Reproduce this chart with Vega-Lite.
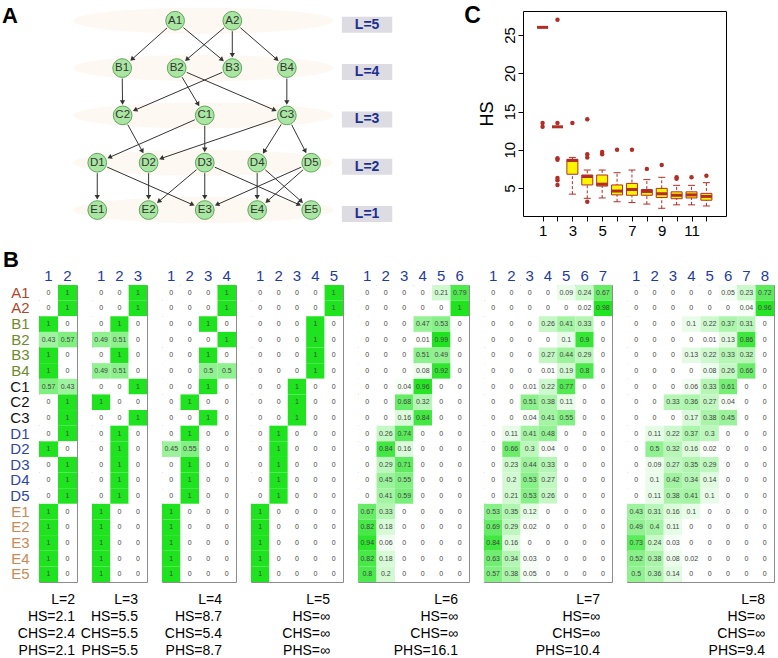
{
  "$schema": "https://vega.github.io/schema/vega-lite/v6.json",
  "background": "white",
  "padding": {"left": 2, "top": 4, "right": 2, "bottom": 0},
  "config": {
    "view": {"stroke": null},
    "font": "Liberation Sans",
    "title": {"font": "Liberation Sans", "color": "black"},
    "axis": {"labelFont": "Liberation Sans", "titleFont": "Liberation Sans"}
  },
  "datasets": {
    "tags": [{"panel": "A"}, {"panel": "C"}],
    "nodes": [
      {"id": "A1", "x": 2.47, "level": 5}, {"id": "A2", "x": 3.55, "level": 5},
      {"id": "B1", "x": 1.47, "level": 4}, {"id": "B2", "x": 2.5, "level": 4}, {"id": "B3", "x": 3.55, "level": 4}, {"id": "B4", "x": 4.58, "level": 4},
      {"id": "C1", "x": 3.03, "level": 3}, {"id": "C2", "x": 1.48, "level": 3}, {"id": "C3", "x": 4.58, "level": 3},
      {"id": "D1", "x": 1.0, "level": 2}, {"id": "D2", "x": 1.97, "level": 2}, {"id": "D3", "x": 3.03, "level": 2}, {"id": "D4", "x": 4.02, "level": 2}, {"id": "D5", "x": 5.04, "level": 2},
      {"id": "E1", "x": 1.0, "level": 1}, {"id": "E2", "x": 1.97, "level": 1}, {"id": "E3", "x": 3.03, "level": 1}, {"id": "E4", "x": 4.02, "level": 1}, {"id": "E5", "x": 5.04, "level": 1}
    ],
    "edges": [
      {"s": "A1", "t": "B1"}, {"s": "A1", "t": "B3"}, {"s": "A2", "t": "B2"}, {"s": "A2", "t": "B3"}, {"s": "A2", "t": "B4"},
      {"s": "B1", "t": "C2"}, {"s": "B3", "t": "C2"}, {"s": "B2", "t": "C1"}, {"s": "B2", "t": "C3"}, {"s": "B4", "t": "C3"},
      {"s": "C2", "t": "D2"}, {"s": "C1", "t": "D1"}, {"s": "C1", "t": "D3"}, {"s": "C3", "t": "D2"}, {"s": "C3", "t": "D4"}, {"s": "C3", "t": "D5"},
      {"s": "D1", "t": "E1"}, {"s": "D1", "t": "E3"}, {"s": "D2", "t": "E2"}, {"s": "D3", "t": "E2"}, {"s": "D3", "t": "E3"}, {"s": "D3", "t": "E5"},
      {"s": "D4", "t": "E4"}, {"s": "D4", "t": "E5"}, {"s": "D5", "t": "E3"}, {"s": "D5", "t": "E4"}
    ],
    "levels": [
      {"level": 5, "lab": "L=5"}, {"level": 4, "lab": "L=4"}, {"level": 3, "lab": "L=3"}, {"level": 2, "lab": "L=2"}, {"level": 1, "lab": "L=1"}
    ],
    "box": [
      {"g": 1, "lo": 26, "q1": 26, "med": 26, "q3": 26, "hi": 26},
      {"g": 2, "lo": 13, "q1": 13, "med": 13, "q3": 13, "hi": 13},
      {"g": 3, "lo": 4.2, "q1": 6.8, "med": 8.6, "q3": 8.75, "hi": 9.0},
      {"g": 4, "lo": 3.65, "q1": 5.4, "med": 6.5, "q3": 6.7, "hi": 7.35},
      {"g": 5, "lo": 3.7, "q1": 5.25, "med": 5.5, "q3": 6.7, "hi": 7.35},
      {"g": 6, "lo": 3.2, "q1": 4.1, "med": 4.6, "q3": 5.4, "hi": 7.0},
      {"g": 7, "lo": 3.1, "q1": 4.05, "med": 4.8, "q3": 5.6, "hi": 7.35},
      {"g": 8, "lo": 2.9, "q1": 4.05, "med": 4.55, "q3": 4.8, "hi": 6.1},
      {"g": 9, "lo": 2.35, "q1": 3.75, "med": 4.25, "q3": 4.95, "hi": 6.4},
      {"g": 10, "lo": 2.8, "q1": 3.6, "med": 4.05, "q3": 4.5, "hi": 5.35},
      {"g": 11, "lo": 2.8, "q1": 3.7, "med": 4.1, "q3": 4.5, "hi": 5.35},
      {"g": 12, "lo": 2.65, "q1": 3.4, "med": 3.9, "q3": 4.3, "hi": 5.7}
    ],
    "outl": [
      {"g": 1, "value": 13.5}, {"g": 1, "value": 13.0},
      {"g": 2, "value": 27.0}, {"g": 2, "value": 13.5}, {"g": 2, "value": 8.9}, {"g": 2, "value": 8.7}, {"g": 2, "value": 6.3}, {"g": 2, "value": 6.0}, {"g": 2, "value": 5.4},
      {"g": 3, "value": 13.5},
      {"g": 4, "value": 14.0}, {"g": 4, "value": 9.4}, {"g": 4, "value": 9.0}, {"g": 4, "value": 3.2},
      {"g": 5, "value": 9.7}, {"g": 5, "value": 9.4},
      {"g": 6, "value": 10.0}, {"g": 7, "value": 10.0}, {"g": 8, "value": 7.5}, {"g": 9, "value": 8.0},
      {"g": 10, "value": 6.4}, {"g": 10, "value": 6.2}, {"g": 11, "value": 6.4}, {"g": 12, "value": 6.6}
    ],
    "cells": [
      {"L":2,"r":"A1","c":1,"v":0},{"L":2,"r":"A1","c":2,"v":1},
      {"L":2,"r":"A2","c":1,"v":0},{"L":2,"r":"A2","c":2,"v":1},
      {"L":2,"r":"B1","c":1,"v":1},{"L":2,"r":"B1","c":2,"v":0},
      {"L":2,"r":"B2","c":1,"v":0.43},{"L":2,"r":"B2","c":2,"v":0.57},
      {"L":2,"r":"B3","c":1,"v":1},{"L":2,"r":"B3","c":2,"v":0},
      {"L":2,"r":"B4","c":1,"v":1},{"L":2,"r":"B4","c":2,"v":0},
      {"L":2,"r":"C1","c":1,"v":0.57},{"L":2,"r":"C1","c":2,"v":0.43},
      {"L":2,"r":"C2","c":1,"v":0},{"L":2,"r":"C2","c":2,"v":1},
      {"L":2,"r":"C3","c":1,"v":0},{"L":2,"r":"C3","c":2,"v":1},
      {"L":2,"r":"D1","c":1,"v":0},{"L":2,"r":"D1","c":2,"v":1},
      {"L":2,"r":"D2","c":1,"v":1},{"L":2,"r":"D2","c":2,"v":0},
      {"L":2,"r":"D3","c":1,"v":0},{"L":2,"r":"D3","c":2,"v":1},
      {"L":2,"r":"D4","c":1,"v":0},{"L":2,"r":"D4","c":2,"v":1},
      {"L":2,"r":"D5","c":1,"v":0},{"L":2,"r":"D5","c":2,"v":1},
      {"L":2,"r":"E1","c":1,"v":1},{"L":2,"r":"E1","c":2,"v":0},
      {"L":2,"r":"E2","c":1,"v":1},{"L":2,"r":"E2","c":2,"v":0},
      {"L":2,"r":"E3","c":1,"v":1},{"L":2,"r":"E3","c":2,"v":0},
      {"L":2,"r":"E4","c":1,"v":1},{"L":2,"r":"E4","c":2,"v":0},
      {"L":2,"r":"E5","c":1,"v":1},{"L":2,"r":"E5","c":2,"v":0},

      {"L":3,"r":"A1","c":1,"v":0},{"L":3,"r":"A1","c":2,"v":0},{"L":3,"r":"A1","c":3,"v":1},
      {"L":3,"r":"A2","c":1,"v":0},{"L":3,"r":"A2","c":2,"v":0},{"L":3,"r":"A2","c":3,"v":1},
      {"L":3,"r":"B1","c":1,"v":0},{"L":3,"r":"B1","c":2,"v":1},{"L":3,"r":"B1","c":3,"v":0},
      {"L":3,"r":"B2","c":1,"v":0.49},{"L":3,"r":"B2","c":2,"v":0.51},{"L":3,"r":"B2","c":3,"v":0},
      {"L":3,"r":"B3","c":1,"v":0},{"L":3,"r":"B3","c":2,"v":1},{"L":3,"r":"B3","c":3,"v":0},
      {"L":3,"r":"B4","c":1,"v":0.49},{"L":3,"r":"B4","c":2,"v":0.51},{"L":3,"r":"B4","c":3,"v":0},
      {"L":3,"r":"C1","c":1,"v":0},{"L":3,"r":"C1","c":2,"v":0},{"L":3,"r":"C1","c":3,"v":1},
      {"L":3,"r":"C2","c":1,"v":1},{"L":3,"r":"C2","c":2,"v":0},{"L":3,"r":"C2","c":3,"v":0},
      {"L":3,"r":"C3","c":1,"v":0},{"L":3,"r":"C3","c":2,"v":0},{"L":3,"r":"C3","c":3,"v":1},
      {"L":3,"r":"D1","c":1,"v":0},{"L":3,"r":"D1","c":2,"v":1},{"L":3,"r":"D1","c":3,"v":0},
      {"L":3,"r":"D2","c":1,"v":0},{"L":3,"r":"D2","c":2,"v":1},{"L":3,"r":"D2","c":3,"v":0},
      {"L":3,"r":"D3","c":1,"v":0},{"L":3,"r":"D3","c":2,"v":1},{"L":3,"r":"D3","c":3,"v":0},
      {"L":3,"r":"D4","c":1,"v":0},{"L":3,"r":"D4","c":2,"v":1},{"L":3,"r":"D4","c":3,"v":0},
      {"L":3,"r":"D5","c":1,"v":0},{"L":3,"r":"D5","c":2,"v":1},{"L":3,"r":"D5","c":3,"v":0},
      {"L":3,"r":"E1","c":1,"v":1},{"L":3,"r":"E1","c":2,"v":0},{"L":3,"r":"E1","c":3,"v":0},
      {"L":3,"r":"E2","c":1,"v":1},{"L":3,"r":"E2","c":2,"v":0},{"L":3,"r":"E2","c":3,"v":0},
      {"L":3,"r":"E3","c":1,"v":1},{"L":3,"r":"E3","c":2,"v":0},{"L":3,"r":"E3","c":3,"v":0},
      {"L":3,"r":"E4","c":1,"v":1},{"L":3,"r":"E4","c":2,"v":0},{"L":3,"r":"E4","c":3,"v":0},
      {"L":3,"r":"E5","c":1,"v":1},{"L":3,"r":"E5","c":2,"v":0},{"L":3,"r":"E5","c":3,"v":0},

      {"L":4,"r":"A1","c":1,"v":0},{"L":4,"r":"A1","c":2,"v":0},{"L":4,"r":"A1","c":3,"v":0},{"L":4,"r":"A1","c":4,"v":1},
      {"L":4,"r":"A2","c":1,"v":0},{"L":4,"r":"A2","c":2,"v":0},{"L":4,"r":"A2","c":3,"v":0},{"L":4,"r":"A2","c":4,"v":1},
      {"L":4,"r":"B1","c":1,"v":0},{"L":4,"r":"B1","c":2,"v":0},{"L":4,"r":"B1","c":3,"v":1},{"L":4,"r":"B1","c":4,"v":0},
      {"L":4,"r":"B2","c":1,"v":0},{"L":4,"r":"B2","c":2,"v":0},{"L":4,"r":"B2","c":3,"v":0},{"L":4,"r":"B2","c":4,"v":1},
      {"L":4,"r":"B3","c":1,"v":0},{"L":4,"r":"B3","c":2,"v":0},{"L":4,"r":"B3","c":3,"v":1},{"L":4,"r":"B3","c":4,"v":0},
      {"L":4,"r":"B4","c":1,"v":0},{"L":4,"r":"B4","c":2,"v":0},{"L":4,"r":"B4","c":3,"v":0.5},{"L":4,"r":"B4","c":4,"v":0.5},
      {"L":4,"r":"C1","c":1,"v":0},{"L":4,"r":"C1","c":2,"v":0},{"L":4,"r":"C1","c":3,"v":1},{"L":4,"r":"C1","c":4,"v":0},
      {"L":4,"r":"C2","c":1,"v":0},{"L":4,"r":"C2","c":2,"v":1},{"L":4,"r":"C2","c":3,"v":0},{"L":4,"r":"C2","c":4,"v":0},
      {"L":4,"r":"C3","c":1,"v":0},{"L":4,"r":"C3","c":2,"v":0},{"L":4,"r":"C3","c":3,"v":1},{"L":4,"r":"C3","c":4,"v":0},
      {"L":4,"r":"D1","c":1,"v":0},{"L":4,"r":"D1","c":2,"v":1},{"L":4,"r":"D1","c":3,"v":0},{"L":4,"r":"D1","c":4,"v":0},
      {"L":4,"r":"D2","c":1,"v":0.45},{"L":4,"r":"D2","c":2,"v":0.55},{"L":4,"r":"D2","c":3,"v":0},{"L":4,"r":"D2","c":4,"v":0},
      {"L":4,"r":"D3","c":1,"v":0},{"L":4,"r":"D3","c":2,"v":1},{"L":4,"r":"D3","c":3,"v":0},{"L":4,"r":"D3","c":4,"v":0},
      {"L":4,"r":"D4","c":1,"v":0},{"L":4,"r":"D4","c":2,"v":1},{"L":4,"r":"D4","c":3,"v":0},{"L":4,"r":"D4","c":4,"v":0},
      {"L":4,"r":"D5","c":1,"v":0},{"L":4,"r":"D5","c":2,"v":1},{"L":4,"r":"D5","c":3,"v":0},{"L":4,"r":"D5","c":4,"v":0},
      {"L":4,"r":"E1","c":1,"v":1},{"L":4,"r":"E1","c":2,"v":0},{"L":4,"r":"E1","c":3,"v":0},{"L":4,"r":"E1","c":4,"v":0},
      {"L":4,"r":"E2","c":1,"v":1},{"L":4,"r":"E2","c":2,"v":0},{"L":4,"r":"E2","c":3,"v":0},{"L":4,"r":"E2","c":4,"v":0},
      {"L":4,"r":"E3","c":1,"v":1},{"L":4,"r":"E3","c":2,"v":0},{"L":4,"r":"E3","c":3,"v":0},{"L":4,"r":"E3","c":4,"v":0},
      {"L":4,"r":"E4","c":1,"v":1},{"L":4,"r":"E4","c":2,"v":0},{"L":4,"r":"E4","c":3,"v":0},{"L":4,"r":"E4","c":4,"v":0},
      {"L":4,"r":"E5","c":1,"v":1},{"L":4,"r":"E5","c":2,"v":0},{"L":4,"r":"E5","c":3,"v":0},{"L":4,"r":"E5","c":4,"v":0},

      {"L":5,"r":"A1","c":1,"v":0},{"L":5,"r":"A1","c":2,"v":0},{"L":5,"r":"A1","c":3,"v":0},{"L":5,"r":"A1","c":4,"v":0},{"L":5,"r":"A1","c":5,"v":1},
      {"L":5,"r":"A2","c":1,"v":0},{"L":5,"r":"A2","c":2,"v":0},{"L":5,"r":"A2","c":3,"v":0},{"L":5,"r":"A2","c":4,"v":0},{"L":5,"r":"A2","c":5,"v":1},
      {"L":5,"r":"B1","c":1,"v":0},{"L":5,"r":"B1","c":2,"v":0},{"L":5,"r":"B1","c":3,"v":0},{"L":5,"r":"B1","c":4,"v":1},{"L":5,"r":"B1","c":5,"v":0},
      {"L":5,"r":"B2","c":1,"v":0},{"L":5,"r":"B2","c":2,"v":0},{"L":5,"r":"B2","c":3,"v":0},{"L":5,"r":"B2","c":4,"v":1},{"L":5,"r":"B2","c":5,"v":0},
      {"L":5,"r":"B3","c":1,"v":0},{"L":5,"r":"B3","c":2,"v":0},{"L":5,"r":"B3","c":3,"v":0},{"L":5,"r":"B3","c":4,"v":1},{"L":5,"r":"B3","c":5,"v":0},
      {"L":5,"r":"B4","c":1,"v":0},{"L":5,"r":"B4","c":2,"v":0},{"L":5,"r":"B4","c":3,"v":0},{"L":5,"r":"B4","c":4,"v":1},{"L":5,"r":"B4","c":5,"v":0},
      {"L":5,"r":"C1","c":1,"v":0},{"L":5,"r":"C1","c":2,"v":0},{"L":5,"r":"C1","c":3,"v":1},{"L":5,"r":"C1","c":4,"v":0},{"L":5,"r":"C1","c":5,"v":0},
      {"L":5,"r":"C2","c":1,"v":0},{"L":5,"r":"C2","c":2,"v":0},{"L":5,"r":"C2","c":3,"v":1},{"L":5,"r":"C2","c":4,"v":0},{"L":5,"r":"C2","c":5,"v":0},
      {"L":5,"r":"C3","c":1,"v":0},{"L":5,"r":"C3","c":2,"v":0},{"L":5,"r":"C3","c":3,"v":1},{"L":5,"r":"C3","c":4,"v":0},{"L":5,"r":"C3","c":5,"v":0},
      {"L":5,"r":"D1","c":1,"v":0},{"L":5,"r":"D1","c":2,"v":1},{"L":5,"r":"D1","c":3,"v":0},{"L":5,"r":"D1","c":4,"v":0},{"L":5,"r":"D1","c":5,"v":0},
      {"L":5,"r":"D2","c":1,"v":0},{"L":5,"r":"D2","c":2,"v":1},{"L":5,"r":"D2","c":3,"v":0},{"L":5,"r":"D2","c":4,"v":0},{"L":5,"r":"D2","c":5,"v":0},
      {"L":5,"r":"D3","c":1,"v":0},{"L":5,"r":"D3","c":2,"v":1},{"L":5,"r":"D3","c":3,"v":0},{"L":5,"r":"D3","c":4,"v":0},{"L":5,"r":"D3","c":5,"v":0},
      {"L":5,"r":"D4","c":1,"v":0},{"L":5,"r":"D4","c":2,"v":1},{"L":5,"r":"D4","c":3,"v":0},{"L":5,"r":"D4","c":4,"v":0},{"L":5,"r":"D4","c":5,"v":0},
      {"L":5,"r":"D5","c":1,"v":0},{"L":5,"r":"D5","c":2,"v":1},{"L":5,"r":"D5","c":3,"v":0},{"L":5,"r":"D5","c":4,"v":0},{"L":5,"r":"D5","c":5,"v":0},
      {"L":5,"r":"E1","c":1,"v":1},{"L":5,"r":"E1","c":2,"v":0},{"L":5,"r":"E1","c":3,"v":0},{"L":5,"r":"E1","c":4,"v":0},{"L":5,"r":"E1","c":5,"v":0},
      {"L":5,"r":"E2","c":1,"v":1},{"L":5,"r":"E2","c":2,"v":0},{"L":5,"r":"E2","c":3,"v":0},{"L":5,"r":"E2","c":4,"v":0},{"L":5,"r":"E2","c":5,"v":0},
      {"L":5,"r":"E3","c":1,"v":1},{"L":5,"r":"E3","c":2,"v":0},{"L":5,"r":"E3","c":3,"v":0},{"L":5,"r":"E3","c":4,"v":0},{"L":5,"r":"E3","c":5,"v":0},
      {"L":5,"r":"E4","c":1,"v":1},{"L":5,"r":"E4","c":2,"v":0},{"L":5,"r":"E4","c":3,"v":0},{"L":5,"r":"E4","c":4,"v":0},{"L":5,"r":"E4","c":5,"v":0},
      {"L":5,"r":"E5","c":1,"v":1},{"L":5,"r":"E5","c":2,"v":0},{"L":5,"r":"E5","c":3,"v":0},{"L":5,"r":"E5","c":4,"v":0},{"L":5,"r":"E5","c":5,"v":0},

      {"L":6,"r":"A1","c":1,"v":0},{"L":6,"r":"A1","c":2,"v":0},{"L":6,"r":"A1","c":3,"v":0},{"L":6,"r":"A1","c":4,"v":0},{"L":6,"r":"A1","c":5,"v":0.21},{"L":6,"r":"A1","c":6,"v":0.79},
      {"L":6,"r":"A2","c":1,"v":0},{"L":6,"r":"A2","c":2,"v":0},{"L":6,"r":"A2","c":3,"v":0},{"L":6,"r":"A2","c":4,"v":0},{"L":6,"r":"A2","c":5,"v":0},{"L":6,"r":"A2","c":6,"v":1},
      {"L":6,"r":"B1","c":1,"v":0},{"L":6,"r":"B1","c":2,"v":0},{"L":6,"r":"B1","c":3,"v":0},{"L":6,"r":"B1","c":4,"v":0.47},{"L":6,"r":"B1","c":5,"v":0.53},{"L":6,"r":"B1","c":6,"v":0},
      {"L":6,"r":"B2","c":1,"v":0},{"L":6,"r":"B2","c":2,"v":0},{"L":6,"r":"B2","c":3,"v":0},{"L":6,"r":"B2","c":4,"v":0.01},{"L":6,"r":"B2","c":5,"v":0.99},{"L":6,"r":"B2","c":6,"v":0},
      {"L":6,"r":"B3","c":1,"v":0},{"L":6,"r":"B3","c":2,"v":0},{"L":6,"r":"B3","c":3,"v":0},{"L":6,"r":"B3","c":4,"v":0.51},{"L":6,"r":"B3","c":5,"v":0.49},{"L":6,"r":"B3","c":6,"v":0},
      {"L":6,"r":"B4","c":1,"v":0},{"L":6,"r":"B4","c":2,"v":0},{"L":6,"r":"B4","c":3,"v":0},{"L":6,"r":"B4","c":4,"v":0.08},{"L":6,"r":"B4","c":5,"v":0.92},{"L":6,"r":"B4","c":6,"v":0},
      {"L":6,"r":"C1","c":1,"v":0},{"L":6,"r":"C1","c":2,"v":0},{"L":6,"r":"C1","c":3,"v":0.04},{"L":6,"r":"C1","c":4,"v":0.96},{"L":6,"r":"C1","c":5,"v":0},{"L":6,"r":"C1","c":6,"v":0},
      {"L":6,"r":"C2","c":1,"v":0},{"L":6,"r":"C2","c":2,"v":0},{"L":6,"r":"C2","c":3,"v":0.68},{"L":6,"r":"C2","c":4,"v":0.32},{"L":6,"r":"C2","c":5,"v":0},{"L":6,"r":"C2","c":6,"v":0},
      {"L":6,"r":"C3","c":1,"v":0},{"L":6,"r":"C3","c":2,"v":0},{"L":6,"r":"C3","c":3,"v":0.16},{"L":6,"r":"C3","c":4,"v":0.84},{"L":6,"r":"C3","c":5,"v":0},{"L":6,"r":"C3","c":6,"v":0},
      {"L":6,"r":"D1","c":1,"v":0},{"L":6,"r":"D1","c":2,"v":0.26},{"L":6,"r":"D1","c":3,"v":0.74},{"L":6,"r":"D1","c":4,"v":0},{"L":6,"r":"D1","c":5,"v":0},{"L":6,"r":"D1","c":6,"v":0},
      {"L":6,"r":"D2","c":1,"v":0},{"L":6,"r":"D2","c":2,"v":0.84},{"L":6,"r":"D2","c":3,"v":0.16},{"L":6,"r":"D2","c":4,"v":0},{"L":6,"r":"D2","c":5,"v":0},{"L":6,"r":"D2","c":6,"v":0},
      {"L":6,"r":"D3","c":1,"v":0},{"L":6,"r":"D3","c":2,"v":0.29},{"L":6,"r":"D3","c":3,"v":0.71},{"L":6,"r":"D3","c":4,"v":0},{"L":6,"r":"D3","c":5,"v":0},{"L":6,"r":"D3","c":6,"v":0},
      {"L":6,"r":"D4","c":1,"v":0},{"L":6,"r":"D4","c":2,"v":0.45},{"L":6,"r":"D4","c":3,"v":0.55},{"L":6,"r":"D4","c":4,"v":0},{"L":6,"r":"D4","c":5,"v":0},{"L":6,"r":"D4","c":6,"v":0},
      {"L":6,"r":"D5","c":1,"v":0},{"L":6,"r":"D5","c":2,"v":0.41},{"L":6,"r":"D5","c":3,"v":0.59},{"L":6,"r":"D5","c":4,"v":0},{"L":6,"r":"D5","c":5,"v":0},{"L":6,"r":"D5","c":6,"v":0},
      {"L":6,"r":"E1","c":1,"v":0.67},{"L":6,"r":"E1","c":2,"v":0.33},{"L":6,"r":"E1","c":3,"v":0},{"L":6,"r":"E1","c":4,"v":0},{"L":6,"r":"E1","c":5,"v":0},{"L":6,"r":"E1","c":6,"v":0},
      {"L":6,"r":"E2","c":1,"v":0.82},{"L":6,"r":"E2","c":2,"v":0.18},{"L":6,"r":"E2","c":3,"v":0},{"L":6,"r":"E2","c":4,"v":0},{"L":6,"r":"E2","c":5,"v":0},{"L":6,"r":"E2","c":6,"v":0},
      {"L":6,"r":"E3","c":1,"v":0.94},{"L":6,"r":"E3","c":2,"v":0.06},{"L":6,"r":"E3","c":3,"v":0},{"L":6,"r":"E3","c":4,"v":0},{"L":6,"r":"E3","c":5,"v":0},{"L":6,"r":"E3","c":6,"v":0},
      {"L":6,"r":"E4","c":1,"v":0.82},{"L":6,"r":"E4","c":2,"v":0.18},{"L":6,"r":"E4","c":3,"v":0},{"L":6,"r":"E4","c":4,"v":0},{"L":6,"r":"E4","c":5,"v":0},{"L":6,"r":"E4","c":6,"v":0},
      {"L":6,"r":"E5","c":1,"v":0.8},{"L":6,"r":"E5","c":2,"v":0.2},{"L":6,"r":"E5","c":3,"v":0},{"L":6,"r":"E5","c":4,"v":0},{"L":6,"r":"E5","c":5,"v":0},{"L":6,"r":"E5","c":6,"v":0},

      {"L":7,"r":"A1","c":1,"v":0},{"L":7,"r":"A1","c":2,"v":0},{"L":7,"r":"A1","c":3,"v":0},{"L":7,"r":"A1","c":4,"v":0},{"L":7,"r":"A1","c":5,"v":0.09},{"L":7,"r":"A1","c":6,"v":0.24},{"L":7,"r":"A1","c":7,"v":0.67},
      {"L":7,"r":"A2","c":1,"v":0},{"L":7,"r":"A2","c":2,"v":0},{"L":7,"r":"A2","c":3,"v":0},{"L":7,"r":"A2","c":4,"v":0},{"L":7,"r":"A2","c":5,"v":0},{"L":7,"r":"A2","c":6,"v":0.02},{"L":7,"r":"A2","c":7,"v":0.98},
      {"L":7,"r":"B1","c":1,"v":0},{"L":7,"r":"B1","c":2,"v":0},{"L":7,"r":"B1","c":3,"v":0},{"L":7,"r":"B1","c":4,"v":0.26},{"L":7,"r":"B1","c":5,"v":0.41},{"L":7,"r":"B1","c":6,"v":0.33},{"L":7,"r":"B1","c":7,"v":0},
      {"L":7,"r":"B2","c":1,"v":0},{"L":7,"r":"B2","c":2,"v":0},{"L":7,"r":"B2","c":3,"v":0},{"L":7,"r":"B2","c":4,"v":0},{"L":7,"r":"B2","c":5,"v":0.1},{"L":7,"r":"B2","c":6,"v":0.9},{"L":7,"r":"B2","c":7,"v":0},
      {"L":7,"r":"B3","c":1,"v":0},{"L":7,"r":"B3","c":2,"v":0},{"L":7,"r":"B3","c":3,"v":0},{"L":7,"r":"B3","c":4,"v":0.27},{"L":7,"r":"B3","c":5,"v":0.44},{"L":7,"r":"B3","c":6,"v":0.29},{"L":7,"r":"B3","c":7,"v":0},
      {"L":7,"r":"B4","c":1,"v":0},{"L":7,"r":"B4","c":2,"v":0},{"L":7,"r":"B4","c":3,"v":0},{"L":7,"r":"B4","c":4,"v":0.01},{"L":7,"r":"B4","c":5,"v":0.19},{"L":7,"r":"B4","c":6,"v":0.8},{"L":7,"r":"B4","c":7,"v":0},
      {"L":7,"r":"C1","c":1,"v":0},{"L":7,"r":"C1","c":2,"v":0},{"L":7,"r":"C1","c":3,"v":0.01},{"L":7,"r":"C1","c":4,"v":0.22},{"L":7,"r":"C1","c":5,"v":0.77},{"L":7,"r":"C1","c":6,"v":0},{"L":7,"r":"C1","c":7,"v":0},
      {"L":7,"r":"C2","c":1,"v":0},{"L":7,"r":"C2","c":2,"v":0},{"L":7,"r":"C2","c":3,"v":0.51},{"L":7,"r":"C2","c":4,"v":0.38},{"L":7,"r":"C2","c":5,"v":0.11},{"L":7,"r":"C2","c":6,"v":0},{"L":7,"r":"C2","c":7,"v":0},
      {"L":7,"r":"C3","c":1,"v":0},{"L":7,"r":"C3","c":2,"v":0},{"L":7,"r":"C3","c":3,"v":0.04},{"L":7,"r":"C3","c":4,"v":0.41},{"L":7,"r":"C3","c":5,"v":0.55},{"L":7,"r":"C3","c":6,"v":0},{"L":7,"r":"C3","c":7,"v":0},
      {"L":7,"r":"D1","c":1,"v":0},{"L":7,"r":"D1","c":2,"v":0.11},{"L":7,"r":"D1","c":3,"v":0.41},{"L":7,"r":"D1","c":4,"v":0.48},{"L":7,"r":"D1","c":5,"v":0},{"L":7,"r":"D1","c":6,"v":0},{"L":7,"r":"D1","c":7,"v":0},
      {"L":7,"r":"D2","c":1,"v":0},{"L":7,"r":"D2","c":2,"v":0.66},{"L":7,"r":"D2","c":3,"v":0.3},{"L":7,"r":"D2","c":4,"v":0.04},{"L":7,"r":"D2","c":5,"v":0},{"L":7,"r":"D2","c":6,"v":0},{"L":7,"r":"D2","c":7,"v":0},
      {"L":7,"r":"D3","c":1,"v":0},{"L":7,"r":"D3","c":2,"v":0.23},{"L":7,"r":"D3","c":3,"v":0.44},{"L":7,"r":"D3","c":4,"v":0.33},{"L":7,"r":"D3","c":5,"v":0},{"L":7,"r":"D3","c":6,"v":0},{"L":7,"r":"D3","c":7,"v":0},
      {"L":7,"r":"D4","c":1,"v":0},{"L":7,"r":"D4","c":2,"v":0.2},{"L":7,"r":"D4","c":3,"v":0.53},{"L":7,"r":"D4","c":4,"v":0.27},{"L":7,"r":"D4","c":5,"v":0},{"L":7,"r":"D4","c":6,"v":0},{"L":7,"r":"D4","c":7,"v":0},
      {"L":7,"r":"D5","c":1,"v":0},{"L":7,"r":"D5","c":2,"v":0.21},{"L":7,"r":"D5","c":3,"v":0.53},{"L":7,"r":"D5","c":4,"v":0.26},{"L":7,"r":"D5","c":5,"v":0},{"L":7,"r":"D5","c":6,"v":0},{"L":7,"r":"D5","c":7,"v":0},
      {"L":7,"r":"E1","c":1,"v":0.53},{"L":7,"r":"E1","c":2,"v":0.35},{"L":7,"r":"E1","c":3,"v":0.12},{"L":7,"r":"E1","c":4,"v":0},{"L":7,"r":"E1","c":5,"v":0},{"L":7,"r":"E1","c":6,"v":0},{"L":7,"r":"E1","c":7,"v":0},
      {"L":7,"r":"E2","c":1,"v":0.69},{"L":7,"r":"E2","c":2,"v":0.29},{"L":7,"r":"E2","c":3,"v":0.02},{"L":7,"r":"E2","c":4,"v":0},{"L":7,"r":"E2","c":5,"v":0},{"L":7,"r":"E2","c":6,"v":0},{"L":7,"r":"E2","c":7,"v":0},
      {"L":7,"r":"E3","c":1,"v":0.84},{"L":7,"r":"E3","c":2,"v":0.16},{"L":7,"r":"E3","c":3,"v":0},{"L":7,"r":"E3","c":4,"v":0},{"L":7,"r":"E3","c":5,"v":0},{"L":7,"r":"E3","c":6,"v":0},{"L":7,"r":"E3","c":7,"v":0},
      {"L":7,"r":"E4","c":1,"v":0.63},{"L":7,"r":"E4","c":2,"v":0.34},{"L":7,"r":"E4","c":3,"v":0.03},{"L":7,"r":"E4","c":4,"v":0},{"L":7,"r":"E4","c":5,"v":0},{"L":7,"r":"E4","c":6,"v":0},{"L":7,"r":"E4","c":7,"v":0},
      {"L":7,"r":"E5","c":1,"v":0.57},{"L":7,"r":"E5","c":2,"v":0.38},{"L":7,"r":"E5","c":3,"v":0.05},{"L":7,"r":"E5","c":4,"v":0},{"L":7,"r":"E5","c":5,"v":0},{"L":7,"r":"E5","c":6,"v":0},{"L":7,"r":"E5","c":7,"v":0},

      {"L":8,"r":"A1","c":1,"v":0},{"L":8,"r":"A1","c":2,"v":0},{"L":8,"r":"A1","c":3,"v":0},{"L":8,"r":"A1","c":4,"v":0},{"L":8,"r":"A1","c":5,"v":0},{"L":8,"r":"A1","c":6,"v":0.05},{"L":8,"r":"A1","c":7,"v":0.23},{"L":8,"r":"A1","c":8,"v":0.72},
      {"L":8,"r":"A2","c":1,"v":0},{"L":8,"r":"A2","c":2,"v":0},{"L":8,"r":"A2","c":3,"v":0},{"L":8,"r":"A2","c":4,"v":0},{"L":8,"r":"A2","c":5,"v":0},{"L":8,"r":"A2","c":6,"v":0},{"L":8,"r":"A2","c":7,"v":0.04},{"L":8,"r":"A2","c":8,"v":0.96},
      {"L":8,"r":"B1","c":1,"v":0},{"L":8,"r":"B1","c":2,"v":0},{"L":8,"r":"B1","c":3,"v":0},{"L":8,"r":"B1","c":4,"v":0.1},{"L":8,"r":"B1","c":5,"v":0.22},{"L":8,"r":"B1","c":6,"v":0.37},{"L":8,"r":"B1","c":7,"v":0.31},{"L":8,"r":"B1","c":8,"v":0},
      {"L":8,"r":"B2","c":1,"v":0},{"L":8,"r":"B2","c":2,"v":0},{"L":8,"r":"B2","c":3,"v":0},{"L":8,"r":"B2","c":4,"v":0},{"L":8,"r":"B2","c":5,"v":0.01},{"L":8,"r":"B2","c":6,"v":0.13},{"L":8,"r":"B2","c":7,"v":0.86},{"L":8,"r":"B2","c":8,"v":0},
      {"L":8,"r":"B3","c":1,"v":0},{"L":8,"r":"B3","c":2,"v":0},{"L":8,"r":"B3","c":3,"v":0},{"L":8,"r":"B3","c":4,"v":0.13},{"L":8,"r":"B3","c":5,"v":0.22},{"L":8,"r":"B3","c":6,"v":0.33},{"L":8,"r":"B3","c":7,"v":0.32},{"L":8,"r":"B3","c":8,"v":0},
      {"L":8,"r":"B4","c":1,"v":0},{"L":8,"r":"B4","c":2,"v":0},{"L":8,"r":"B4","c":3,"v":0},{"L":8,"r":"B4","c":4,"v":0},{"L":8,"r":"B4","c":5,"v":0.08},{"L":8,"r":"B4","c":6,"v":0.26},{"L":8,"r":"B4","c":7,"v":0.66},{"L":8,"r":"B4","c":8,"v":0},
      {"L":8,"r":"C1","c":1,"v":0},{"L":8,"r":"C1","c":2,"v":0},{"L":8,"r":"C1","c":3,"v":0},{"L":8,"r":"C1","c":4,"v":0.06},{"L":8,"r":"C1","c":5,"v":0.33},{"L":8,"r":"C1","c":6,"v":0.61},{"L":8,"r":"C1","c":7,"v":0},{"L":8,"r":"C1","c":8,"v":0},
      {"L":8,"r":"C2","c":1,"v":0},{"L":8,"r":"C2","c":2,"v":0},{"L":8,"r":"C2","c":3,"v":0.33},{"L":8,"r":"C2","c":4,"v":0.36},{"L":8,"r":"C2","c":5,"v":0.27},{"L":8,"r":"C2","c":6,"v":0.04},{"L":8,"r":"C2","c":7,"v":0},{"L":8,"r":"C2","c":8,"v":0},
      {"L":8,"r":"C3","c":1,"v":0},{"L":8,"r":"C3","c":2,"v":0},{"L":8,"r":"C3","c":3,"v":0},{"L":8,"r":"C3","c":4,"v":0.17},{"L":8,"r":"C3","c":5,"v":0.38},{"L":8,"r":"C3","c":6,"v":0.45},{"L":8,"r":"C3","c":7,"v":0},{"L":8,"r":"C3","c":8,"v":0},
      {"L":8,"r":"D1","c":1,"v":0},{"L":8,"r":"D1","c":2,"v":0.11},{"L":8,"r":"D1","c":3,"v":0.22},{"L":8,"r":"D1","c":4,"v":0.37},{"L":8,"r":"D1","c":5,"v":0.3},{"L":8,"r":"D1","c":6,"v":0},{"L":8,"r":"D1","c":7,"v":0},{"L":8,"r":"D1","c":8,"v":0},
      {"L":8,"r":"D2","c":1,"v":0},{"L":8,"r":"D2","c":2,"v":0.5},{"L":8,"r":"D2","c":3,"v":0.32},{"L":8,"r":"D2","c":4,"v":0.16},{"L":8,"r":"D2","c":5,"v":0.02},{"L":8,"r":"D2","c":6,"v":0},{"L":8,"r":"D2","c":7,"v":0},{"L":8,"r":"D2","c":8,"v":0},
      {"L":8,"r":"D3","c":1,"v":0},{"L":8,"r":"D3","c":2,"v":0.09},{"L":8,"r":"D3","c":3,"v":0.27},{"L":8,"r":"D3","c":4,"v":0.35},{"L":8,"r":"D3","c":5,"v":0.29},{"L":8,"r":"D3","c":6,"v":0},{"L":8,"r":"D3","c":7,"v":0},{"L":8,"r":"D3","c":8,"v":0},
      {"L":8,"r":"D4","c":1,"v":0},{"L":8,"r":"D4","c":2,"v":0.1},{"L":8,"r":"D4","c":3,"v":0.42},{"L":8,"r":"D4","c":4,"v":0.34},{"L":8,"r":"D4","c":5,"v":0.14},{"L":8,"r":"D4","c":6,"v":0},{"L":8,"r":"D4","c":7,"v":0},{"L":8,"r":"D4","c":8,"v":0},
      {"L":8,"r":"D5","c":1,"v":0},{"L":8,"r":"D5","c":2,"v":0.11},{"L":8,"r":"D5","c":3,"v":0.38},{"L":8,"r":"D5","c":4,"v":0.41},{"L":8,"r":"D5","c":5,"v":0.1},{"L":8,"r":"D5","c":6,"v":0},{"L":8,"r":"D5","c":7,"v":0},{"L":8,"r":"D5","c":8,"v":0},
      {"L":8,"r":"E1","c":1,"v":0.43},{"L":8,"r":"E1","c":2,"v":0.31},{"L":8,"r":"E1","c":3,"v":0.16},{"L":8,"r":"E1","c":4,"v":0.1},{"L":8,"r":"E1","c":5,"v":0},{"L":8,"r":"E1","c":6,"v":0},{"L":8,"r":"E1","c":7,"v":0},{"L":8,"r":"E1","c":8,"v":0},
      {"L":8,"r":"E2","c":1,"v":0.49},{"L":8,"r":"E2","c":2,"v":0.4},{"L":8,"r":"E2","c":3,"v":0.11},{"L":8,"r":"E2","c":4,"v":0},{"L":8,"r":"E2","c":5,"v":0},{"L":8,"r":"E2","c":6,"v":0},{"L":8,"r":"E2","c":7,"v":0},{"L":8,"r":"E2","c":8,"v":0},
      {"L":8,"r":"E3","c":1,"v":0.73},{"L":8,"r":"E3","c":2,"v":0.24},{"L":8,"r":"E3","c":3,"v":0.03},{"L":8,"r":"E3","c":4,"v":0},{"L":8,"r":"E3","c":5,"v":0},{"L":8,"r":"E3","c":6,"v":0},{"L":8,"r":"E3","c":7,"v":0},{"L":8,"r":"E3","c":8,"v":0},
      {"L":8,"r":"E4","c":1,"v":0.52},{"L":8,"r":"E4","c":2,"v":0.38},{"L":8,"r":"E4","c":3,"v":0.08},{"L":8,"r":"E4","c":4,"v":0.02},{"L":8,"r":"E4","c":5,"v":0},{"L":8,"r":"E4","c":6,"v":0},{"L":8,"r":"E4","c":7,"v":0},{"L":8,"r":"E4","c":8,"v":0},
      {"L":8,"r":"E5","c":1,"v":0.5},{"L":8,"r":"E5","c":2,"v":0.36},{"L":8,"r":"E5","c":3,"v":0.14},{"L":8,"r":"E5","c":4,"v":0},{"L":8,"r":"E5","c":5,"v":0},{"L":8,"r":"E5","c":6,"v":0},{"L":8,"r":"E5","c":7,"v":0},{"L":8,"r":"E5","c":8,"v":0}
    ]
  },
  "spacing": 9,
  "vconcat": [
    {
      "bounds": "flush",
      "spacing": 108,
      "hconcat": [
        {
          "width": 376,
          "height": 205,
          "layer": [
            {
              "data": {"name": "levels"},
              "mark": {"type": "point", "shape": "M-1,0C-1,-0.055,-0.552,-0.1,0,-0.1C0.552,-0.1,1,-0.055,1,0C1,0.055,0.552,0.1,0,0.1C-0.552,0.1,-1,0.055,-1,0Z", "size": 67600, "filled": true, "color": "#FDF8F1", "opacity": 1, "strokeWidth": 0},
              "encoding": {
                "x": {"datum": 3.0, "type": "quantitative", "scale": {"domain": [-0.1, 7], "nice": false, "zero": false}, "axis": null},
                "y": {"field": "level", "type": "quantitative", "scale": {"domain": [0.98, 5.1], "nice": false, "zero": false}, "axis": null}
              }
            },
            {
              "data": {"name": "tags"},
              "transform": [{"filter": "datum.panel == 'A'"}],
              "mark": {"type": "text", "fontSize": 22, "fontWeight": "bold", "color": "black", "align": "center", "baseline": "alphabetic"},
              "encoding": {
                "x": {"datum": -0.648, "type": "quantitative", "scale": {"domain": [-0.1, 7], "nice": false, "zero": false}, "axis": null},
                "y": {"datum": 4.959, "type": "quantitative", "scale": {"domain": [0.98, 5.1], "nice": false, "zero": false}, "axis": null},
                "text": {"field": "panel"}
              }
            },
            {
              "data": {"name": "tags"},
              "transform": [{"filter": "datum.panel == 'C'"}],
              "mark": {"type": "text", "fontSize": 23, "fontWeight": "bold", "color": "black", "align": "center", "baseline": "alphabetic"},
              "encoding": {
                "x": {"datum": 8.085, "type": "quantitative", "scale": {"domain": [-0.1, 7], "nice": false, "zero": false}, "axis": null},
                "y": {"datum": 4.959, "type": "quantitative", "scale": {"domain": [0.98, 5.1], "nice": false, "zero": false}, "axis": null},
                "text": {"field": "panel"}
              }
            },
            {
              "data": {"name": "levels"},
              "mark": {"type": "bar", "height": 16, "yOffset": 4, "color": "#DCDCE2"},
              "encoding": {
                "x": {"datum": 5.62, "type": "quantitative", "scale": {"domain": [-0.1, 7], "nice": false, "zero": false}, "axis": null},
                "x2": {"datum": 6.57},
                "y": {"field": "level", "type": "quantitative", "scale": {"domain": [0.98, 5.1], "nice": false, "zero": false}, "axis": null}
              }
            },
            {
              "data": {"name": "levels"},
              "mark": {"type": "text", "fontSize": 14, "fontWeight": "bold", "color": "#1C2F8E", "dy": 4, "baseline": "middle"},
              "encoding": {
                "x": {"datum": 6.095, "type": "quantitative", "scale": {"domain": [-0.1, 7], "nice": false, "zero": false}, "axis": null},
                "y": {"field": "level", "type": "quantitative", "scale": {"domain": [0.98, 5.1], "nice": false, "zero": false}, "axis": null},
                "text": {"field": "lab"}
              }
            },
            {
              "data": {"name": "edges"},
              "transform": [
                {"lookup": "s", "from": {"data": {"name": "nodes"}, "key": "id", "fields": ["x", "level"]}, "as": ["sx", "sl"]},
                {"lookup": "t", "from": {"data": {"name": "nodes"}, "key": "id", "fields": ["x", "level"]}, "as": ["tx", "tl"]},
                {"calculate": "(datum.tx - datum.sx) * 52.96", "as": "dxp"},
                {"calculate": "(datum.sl - datum.tl) * 49.76", "as": "dyp"},
                {"calculate": "sqrt(datum.dxp * datum.dxp + datum.dyp * datum.dyp)", "as": "len"},
                {"calculate": "datum.sx + datum.dxp / datum.len * 11 / 52.96", "as": "x1"},
                {"calculate": "datum.sl - datum.dyp / datum.len * 11 / 49.76", "as": "y1"},
                {"calculate": "datum.tx - datum.dxp / datum.len * 14 / 52.96", "as": "x2"},
                {"calculate": "datum.tl + datum.dyp / datum.len * 14 / 49.76", "as": "y2"}
              ],
              "mark": {"type": "rule", "color": "#333333", "strokeWidth": 1},
              "encoding": {
                "x": {"field": "x1", "type": "quantitative", "scale": {"domain": [-0.1, 7], "nice": false, "zero": false}, "axis": null},
                "y": {"field": "y1", "type": "quantitative", "scale": {"domain": [0.98, 5.1], "nice": false, "zero": false}, "axis": null},
                "x2": {"field": "x2"},
                "y2": {"field": "y2"}
              }
            },
            {
              "data": {"name": "edges"},
              "transform": [
                {"lookup": "s", "from": {"data": {"name": "nodes"}, "key": "id", "fields": ["x", "level"]}, "as": ["sx", "sl"]},
                {"lookup": "t", "from": {"data": {"name": "nodes"}, "key": "id", "fields": ["x", "level"]}, "as": ["tx", "tl"]},
                {"calculate": "(datum.tx - datum.sx) * 52.96", "as": "dxp"},
                {"calculate": "(datum.sl - datum.tl) * 49.76", "as": "dyp"},
                {"calculate": "sqrt(datum.dxp * datum.dxp + datum.dyp * datum.dyp)", "as": "len"},
                {"calculate": "datum.tx - datum.dxp / datum.len * 13.5 / 52.96", "as": "hx"},
                {"calculate": "datum.tl + datum.dyp / datum.len * 13.5 / 49.76", "as": "hy"},
                {"calculate": "atan2(datum.dxp, -datum.dyp) * 180 / PI", "as": "ang"}
              ],
              "mark": {"type": "point", "shape": "triangle-up", "filled": true, "size": 28, "color": "#333333", "opacity": 1},
              "encoding": {
                "x": {"field": "hx", "type": "quantitative", "scale": {"domain": [-0.1, 7], "nice": false, "zero": false}, "axis": null},
                "y": {"field": "hy", "type": "quantitative", "scale": {"domain": [0.98, 5.1], "nice": false, "zero": false}, "axis": null},
                "angle": {"field": "ang", "type": "quantitative", "scale": null}
              }
            },
            {
              "data": {"name": "nodes"},
              "mark": {"type": "circle", "size": 350, "fill": "#A9E6A2", "stroke": "#5FA65F", "strokeWidth": 1, "opacity": 1},
              "encoding": {
                "x": {"field": "x", "type": "quantitative", "scale": {"domain": [-0.1, 7], "nice": false, "zero": false}, "axis": null},
                "y": {"field": "level", "type": "quantitative", "scale": {"domain": [0.98, 5.1], "nice": false, "zero": false}, "axis": null}
              }
            },
            {
              "data": {"name": "nodes"},
              "mark": {"type": "text", "fontSize": 11.5, "color": "#333333", "baseline": "middle"},
              "encoding": {
                "x": {"field": "x", "type": "quantitative", "scale": {"domain": [-0.1, 7], "nice": false, "zero": false}, "axis": null},
                "y": {"field": "level", "type": "quantitative", "scale": {"domain": [0.98, 5.1], "nice": false, "zero": false}, "axis": null},
                "text": {"field": "id"}
              }
            }
          ]
        },
        {
          "width": 203,
          "height": 205,
          "view": {"stroke": "black", "strokeWidth": 1},
          "encoding": {
            "x": {"field": "g", "type": "quantitative", "scale": {"domain": [0.02, 12.98], "nice": false, "zero": false},
                  "axis": {"values": [1,2,3,4,5,6,7,8,9,10,11,12], "labelExpr": "datum.value % 2 == 1 ? datum.label : ''", "title": null, "grid": false, "domain": false, "tickSize": 5, "tickColor": "black", "labelColor": "black", "labelFontSize": 15, "labelPadding": 2, "labelOverlap": false, "labelFlush": false}}
          },
          "layer": [
            {
              "data": {"name": "box"},
              "mark": {"type": "rule", "color": "#B22D25", "strokeDash": [3, 2], "strokeWidth": 1},
              "encoding": {
                "y": {"field": "lo", "type": "quantitative", "scale": {"domain": [1.34, 28.14], "nice": false, "zero": false},
                      "axis": {"values": [5, 10, 15, 20, 25], "title": "HS", "titleFontSize": 18, "titleFontWeight": "normal", "titleColor": "black", "titlePadding": 6, "grid": false, "domain": false, "tickSize": 5, "tickColor": "black", "labelColor": "black", "labelFontSize": 15, "labelAngle": -90, "labelAlign": "center", "labelBaseline": "bottom", "labelPadding": 1}},
                "y2": {"field": "hi"}
              }
            },
            {
              "data": {"name": "box"},
              "mark": {"type": "tick", "orient": "horizontal", "size": 7, "thickness": 1, "color": "#B22D25", "opacity": 1},
              "encoding": {"y": {"field": "lo", "type": "quantitative", "scale": {"domain": [1.34, 28.14], "nice": false, "zero": false},
                      "axis": {"values": [5, 10, 15, 20, 25], "title": "HS", "titleFontSize": 18, "titleFontWeight": "normal", "titleColor": "black", "titlePadding": 6, "grid": false, "domain": false, "tickSize": 5, "tickColor": "black", "labelColor": "black", "labelFontSize": 15, "labelAngle": -90, "labelAlign": "center", "labelBaseline": "bottom", "labelPadding": 1}}}
            },
            {
              "data": {"name": "box"},
              "mark": {"type": "tick", "orient": "horizontal", "size": 7, "thickness": 1, "color": "#B22D25", "opacity": 1},
              "encoding": {"y": {"field": "hi", "type": "quantitative", "scale": {"domain": [1.34, 28.14], "nice": false, "zero": false},
                      "axis": {"values": [5, 10, 15, 20, 25], "title": "HS", "titleFontSize": 18, "titleFontWeight": "normal", "titleColor": "black", "titlePadding": 6, "grid": false, "domain": false, "tickSize": 5, "tickColor": "black", "labelColor": "black", "labelFontSize": 15, "labelAngle": -90, "labelAlign": "center", "labelBaseline": "bottom", "labelPadding": 1}}}
            },
            {
              "data": {"name": "box"},
              "mark": {"type": "bar", "width": 11, "fill": "#FFF500", "stroke": "#B22D25", "strokeWidth": 1},
              "encoding": {
                "y": {"field": "q1", "type": "quantitative", "scale": {"domain": [1.34, 28.14], "nice": false, "zero": false},
                      "axis": {"values": [5, 10, 15, 20, 25], "title": "HS", "titleFontSize": 18, "titleFontWeight": "normal", "titleColor": "black", "titlePadding": 6, "grid": false, "domain": false, "tickSize": 5, "tickColor": "black", "labelColor": "black", "labelFontSize": 15, "labelAngle": -90, "labelAlign": "center", "labelBaseline": "bottom", "labelPadding": 1}},
                "y2": {"field": "q3"}
              }
            },
            {
              "data": {"name": "box"},
              "mark": {"type": "tick", "orient": "horizontal", "size": 11, "thickness": 3, "color": "#B22D25", "opacity": 1},
              "encoding": {"y": {"field": "med", "type": "quantitative", "scale": {"domain": [1.34, 28.14], "nice": false, "zero": false},
                      "axis": {"values": [5, 10, 15, 20, 25], "title": "HS", "titleFontSize": 18, "titleFontWeight": "normal", "titleColor": "black", "titlePadding": 6, "grid": false, "domain": false, "tickSize": 5, "tickColor": "black", "labelColor": "black", "labelFontSize": 15, "labelAngle": -90, "labelAlign": "center", "labelBaseline": "bottom", "labelPadding": 1}}}
            },
            {
              "data": {"name": "outl"},
              "mark": {"type": "circle", "size": 20, "color": "#B22D25", "opacity": 1},
              "encoding": {"y": {"field": "value", "type": "quantitative", "scale": {"domain": [1.34, 28.14], "nice": false, "zero": false},
                      "axis": {"values": [5, 10, 15, 20, 25], "title": "HS", "titleFontSize": 18, "titleFontWeight": "normal", "titleColor": "black", "titlePadding": 6, "grid": false, "domain": false, "tickSize": 5, "tickColor": "black", "labelColor": "black", "labelFontSize": 15, "labelAngle": -90, "labelAlign": "center", "labelBaseline": "bottom", "labelPadding": 1}}}
            }
          ]
        }
      ]
    },
    {
      "bounds": "flush",
      "spacing": 15,
      "title": {"text": "B", "anchor": "start", "frame": "group", "fontSize": 22, "fontWeight": "bold", "baseline": "alphabetic", "offset": -21, "dx": -36},
      "hconcat": [
        {
          "width": 38, "height": 297,
          "view": {"stroke": "#8C8C8C", "strokeWidth": 1},
          "data": {"name": "cells"},
          "transform": [{"filter": "datum.L == 2"}],
          "title": {"text": ["L=2", "HS=2.1", "CHS=2.4", "PHS=2.1"], "orient": "bottom", "anchor": "end", "frame": "group", "align": "right", "fontSize": 14, "fontWeight": "normal", "lineHeight": 17, "offset": 11, "dx": -2},
          "encoding": {
            "x": {"field": "c", "type": "ordinal", "scale": {"paddingInner": 0, "paddingOuter": 0}, "axis": {"orient": "top", "title": null, "domain": false, "ticks": false, "tickSize": 0, "labelAngle": 0, "labelFontSize": 15, "labelColor": "#1F3B9B", "labelPadding": 2}},
            "y": {"field": "r", "type": "ordinal", "scale": {"domain": ["A1","A2","B1","B2","B3","B4","C1","C2","C3","D1","D2","D3","D4","D5","E1","E2","E3","E4","E5"], "paddingInner": 0, "paddingOuter": 0},
                  "axis": {"title": null, "domain": false, "ticks": false, "tickSize": 0, "labelFontSize": 15, "labelPadding": 10,
                           "labelColor": {"condition": [
                             {"test": "slice(datum.value,0,1) === 'A'", "value": "#B0452C"},
                             {"test": "slice(datum.value,0,1) === 'B'", "value": "#6F8A2B"},
                             {"test": "slice(datum.value,0,1) === 'D'", "value": "#2F45A6"},
                             {"test": "slice(datum.value,0,1) === 'E'", "value": "#C98A55"}
                           ], "value": "#111111"}}}
          },
          "layer": [
            {"mark": "rect", "encoding": {"color": {"field": "v", "type": "quantitative", "scale": {"domain": [0, 1], "range": ["#FFFFFF", "#1EE31E"], "interpolate": "rgb"}, "legend": null}}},
            {"mark": {"type": "text", "fontSize": 7, "color": "#444444"}, "encoding": {"text": {"field": "v", "type": "nominal"}}}
          ]
        },
        {
          "width": 55, "height": 297,
          "view": {"stroke": "#8C8C8C", "strokeWidth": 1},
          "data": {"name": "cells"},
          "transform": [{"filter": "datum.L == 3"}],
          "title": {"text": ["L=3", "HS=5.5", "CHS=5.5", "PHS=5.5"], "orient": "bottom", "anchor": "end", "frame": "group", "align": "right", "fontSize": 14, "fontWeight": "normal", "lineHeight": 17, "offset": 11, "dx": -9},
          "encoding": {
            "x": {"field": "c", "type": "ordinal", "scale": {"paddingInner": 0, "paddingOuter": 0}, "axis": {"orient": "top", "title": null, "domain": false, "ticks": false, "tickSize": 0, "labelAngle": 0, "labelFontSize": 15, "labelColor": "#1F3B9B", "labelPadding": 2}},
            "y": {"field": "r", "type": "ordinal", "scale": {"domain": ["A1","A2","B1","B2","B3","B4","C1","C2","C3","D1","D2","D3","D4","D5","E1","E2","E3","E4","E5"], "paddingInner": 0, "paddingOuter": 0}, "axis": null}
          },
          "layer": [
            {"mark": "rect", "encoding": {"color": {"field": "v", "type": "quantitative", "scale": {"domain": [0, 1], "range": ["#FFFFFF", "#1EE31E"], "interpolate": "rgb"}, "legend": null}}},
            {"mark": {"type": "text", "fontSize": 7, "color": "#444444"}, "encoding": {"text": {"field": "v", "type": "nominal"}}}
          ]
        },
        {
          "width": 74, "height": 297,
          "view": {"stroke": "#8C8C8C", "strokeWidth": 1},
          "data": {"name": "cells"},
          "transform": [{"filter": "datum.L == 4"}],
          "title": {"text": ["L=4", "HS=8.7", "CHS=5.4", "PHS=8.7"], "orient": "bottom", "anchor": "end", "frame": "group", "align": "right", "fontSize": 14, "fontWeight": "normal", "lineHeight": 17, "offset": 11, "dx": -14},
          "encoding": {
            "x": {"field": "c", "type": "ordinal", "scale": {"paddingInner": 0, "paddingOuter": 0}, "axis": {"orient": "top", "title": null, "domain": false, "ticks": false, "tickSize": 0, "labelAngle": 0, "labelFontSize": 15, "labelColor": "#1F3B9B", "labelPadding": 2}},
            "y": {"field": "r", "type": "ordinal", "scale": {"domain": ["A1","A2","B1","B2","B3","B4","C1","C2","C3","D1","D2","D3","D4","D5","E1","E2","E3","E4","E5"], "paddingInner": 0, "paddingOuter": 0}, "axis": null}
          },
          "layer": [
            {"mark": "rect", "encoding": {"color": {"field": "v", "type": "quantitative", "scale": {"domain": [0, 1], "range": ["#FFFFFF", "#1EE31E"], "interpolate": "rgb"}, "legend": null}}},
            {"mark": {"type": "text", "fontSize": 7, "color": "#444444"}, "encoding": {"text": {"field": "v", "type": "nominal"}}}
          ]
        },
        {
          "width": 92, "height": 297,
          "view": {"stroke": "#8C8C8C", "strokeWidth": 1},
          "data": {"name": "cells"},
          "transform": [{"filter": "datum.L == 5"}],
          "title": {"text": ["L=5", "HS=∞", "CHS=∞", "PHS=∞"], "orient": "bottom", "anchor": "end", "frame": "group", "align": "right", "fontSize": 14, "fontWeight": "normal", "lineHeight": 17, "offset": 11, "dx": -13},
          "encoding": {
            "x": {"field": "c", "type": "ordinal", "scale": {"paddingInner": 0, "paddingOuter": 0}, "axis": {"orient": "top", "title": null, "domain": false, "ticks": false, "tickSize": 0, "labelAngle": 0, "labelFontSize": 15, "labelColor": "#1F3B9B", "labelPadding": 2}},
            "y": {"field": "r", "type": "ordinal", "scale": {"domain": ["A1","A2","B1","B2","B3","B4","C1","C2","C3","D1","D2","D3","D4","D5","E1","E2","E3","E4","E5"], "paddingInner": 0, "paddingOuter": 0}, "axis": null}
          },
          "layer": [
            {"mark": "rect", "encoding": {"color": {"field": "v", "type": "quantitative", "scale": {"domain": [0, 1], "range": ["#FFFFFF", "#1EE31E"], "interpolate": "rgb"}, "legend": null}}},
            {"mark": {"type": "text", "fontSize": 7, "color": "#444444"}, "encoding": {"text": {"field": "v", "type": "nominal"}}}
          ]
        },
        {
          "width": 111, "height": 297,
          "view": {"stroke": "#8C8C8C", "strokeWidth": 1},
          "data": {"name": "cells"},
          "transform": [{"filter": "datum.L == 6"}],
          "title": {"text": ["L=6", "HS=∞", "CHS=∞", "PHS=16.1"], "orient": "bottom", "anchor": "end", "frame": "group", "align": "right", "fontSize": 14, "fontWeight": "normal", "lineHeight": 17, "offset": 11, "dx": -11},
          "encoding": {
            "x": {"field": "c", "type": "ordinal", "scale": {"paddingInner": 0, "paddingOuter": 0}, "axis": {"orient": "top", "title": null, "domain": false, "ticks": false, "tickSize": 0, "labelAngle": 0, "labelFontSize": 15, "labelColor": "#1F3B9B", "labelPadding": 2}},
            "y": {"field": "r", "type": "ordinal", "scale": {"domain": ["A1","A2","B1","B2","B3","B4","C1","C2","C3","D1","D2","D3","D4","D5","E1","E2","E3","E4","E5"], "paddingInner": 0, "paddingOuter": 0}, "axis": null}
          },
          "layer": [
            {"mark": "rect", "encoding": {"color": {"field": "v", "type": "quantitative", "scale": {"domain": [0, 1], "range": ["#FFFFFF", "#1EE31E"], "interpolate": "rgb"}, "legend": null}}},
            {"mark": {"type": "text", "fontSize": 7, "color": "#444444"}, "encoding": {"text": {"field": "v", "type": "nominal"}}}
          ]
        },
        {
          "width": 128, "height": 297,
          "view": {"stroke": "#8C8C8C", "strokeWidth": 1},
          "data": {"name": "cells"},
          "transform": [{"filter": "datum.L == 7"}],
          "title": {"text": ["L=7", "HS=∞", "CHS=∞", "PHS=10.4"], "orient": "bottom", "anchor": "end", "frame": "group", "align": "right", "fontSize": 14, "fontWeight": "normal", "lineHeight": 17, "offset": 11, "dx": -12},
          "encoding": {
            "x": {"field": "c", "type": "ordinal", "scale": {"paddingInner": 0, "paddingOuter": 0}, "axis": {"orient": "top", "title": null, "domain": false, "ticks": false, "tickSize": 0, "labelAngle": 0, "labelFontSize": 15, "labelColor": "#1F3B9B", "labelPadding": 2}},
            "y": {"field": "r", "type": "ordinal", "scale": {"domain": ["A1","A2","B1","B2","B3","B4","C1","C2","C3","D1","D2","D3","D4","D5","E1","E2","E3","E4","E5"], "paddingInner": 0, "paddingOuter": 0}, "axis": null}
          },
          "layer": [
            {"mark": "rect", "encoding": {"color": {"field": "v", "type": "quantitative", "scale": {"domain": [0, 1], "range": ["#FFFFFF", "#1EE31E"], "interpolate": "rgb"}, "legend": null}}},
            {"mark": {"type": "text", "fontSize": 7, "color": "#444444"}, "encoding": {"text": {"field": "v", "type": "nominal"}}}
          ]
        },
        {
          "width": 147, "height": 297,
          "view": {"stroke": "#8C8C8C", "strokeWidth": 1},
          "data": {"name": "cells"},
          "transform": [{"filter": "datum.L == 8"}],
          "title": {"text": ["L=8", "HS=∞", "CHS=∞", "PHS=9.4"], "orient": "bottom", "anchor": "end", "frame": "group", "align": "right", "fontSize": 14, "fontWeight": "normal", "lineHeight": 17, "offset": 11, "dx": -9},
          "encoding": {
            "x": {"field": "c", "type": "ordinal", "scale": {"paddingInner": 0, "paddingOuter": 0}, "axis": {"orient": "top", "title": null, "domain": false, "ticks": false, "tickSize": 0, "labelAngle": 0, "labelFontSize": 15, "labelColor": "#1F3B9B", "labelPadding": 2}},
            "y": {"field": "r", "type": "ordinal", "scale": {"domain": ["A1","A2","B1","B2","B3","B4","C1","C2","C3","D1","D2","D3","D4","D5","E1","E2","E3","E4","E5"], "paddingInner": 0, "paddingOuter": 0}, "axis": null}
          },
          "layer": [
            {"mark": "rect", "encoding": {"color": {"field": "v", "type": "quantitative", "scale": {"domain": [0, 1], "range": ["#FFFFFF", "#1EE31E"], "interpolate": "rgb"}, "legend": null}}},
            {"mark": {"type": "text", "fontSize": 7, "color": "#444444"}, "encoding": {"text": {"field": "v", "type": "nominal"}}}
          ]
        }
      ]
    }
  ]
}
